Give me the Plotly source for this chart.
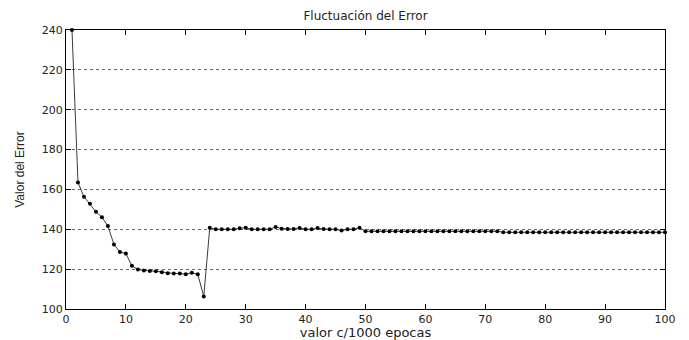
import plotly.graph_objects as go

epochs = list(range(1, 101))
error_values = [
    240, 163.5, 156.3, 152.8, 148.8, 146.0, 141.6, 132.4, 128.6, 127.8,
    121.7, 119.8, 119.3, 119.1, 119.0, 118.5, 118.0, 117.8, 117.8, 117.5,
    118.2, 117.4, 106.3, 140.8, 140.0, 140.0, 140.0, 140.0, 140.5, 140.8,
    140.0, 140.0, 140.0, 140.0, 141.2, 140.3, 140.2, 140.2, 140.7, 140.0,
    140.0, 140.6, 140.1, 140.0, 140.0, 139.4, 140.0, 140.0, 140.8, 139.0,
    139.0, 139.0, 139.0, 139.0, 139.0, 139.0, 139.0, 139.0, 139.0, 139.0,
    139.0, 139.0, 139.0, 139.0, 139.0, 139.0, 139.0, 139.0, 139.0, 139.0,
    139.0, 139.0, 138.5, 138.5, 138.5, 138.5, 138.5, 138.5, 138.5, 138.5,
    138.5, 138.5, 138.5, 138.5, 138.5, 138.5, 138.5, 138.5, 138.5, 138.5,
    138.5, 138.5, 138.5, 138.5, 138.5, 138.5, 138.5, 138.5, 138.5, 138.5,
]
x_ticks = list(range(0, 101, 10))
y_ticks = list(range(100, 241, 20))

FONT = "DejaVu Sans, Verdana, sans-serif"

fig = go.Figure()
fig.add_trace(go.Scatter(
    x=epochs, y=error_values, mode="lines+markers",
    line=dict(color="#3a3a3a", width=1),
    marker=dict(color="black", size=4, symbol="circle"),
    showlegend=False, cliponaxis=False,
))

fig.update_layout(
    width=689, height=340,
    margin=dict(l=66, r=24, t=30, b=31),
    paper_bgcolor="white", plot_bgcolor="white",
    font=dict(family=FONT, color="#222", size=11),
    title=dict(text="Fluctuación del Error", x=0.5, xanchor="center",
               xref="paper", y=1, yref="container", yanchor="top", pad=dict(t=12),
               font=dict(size=12, color="#222", family=FONT)),
    xaxis=dict(
        range=[0, 100], tickvals=x_ticks, ticks="inside", ticklen=5,
        tickcolor="black", showline=True, linecolor="black", linewidth=1,
        mirror="ticks", showgrid=False, zeroline=False, automargin=False,
        ticklabelstandoff=0,
        tickfont=dict(size=11, color="#222", family=FONT),
        title=dict(text="valor c/1000 epocas", font=dict(size=13, color="#222", family=FONT), standoff=0),
    ),
    yaxis=dict(
        range=[100, 240], tickvals=y_ticks, ticks="inside", ticklen=5,
        tickcolor="black", showline=True, linecolor="black", linewidth=1,
        mirror="ticks", showgrid=True, gridcolor="#666", griddash="3px,3px",
        gridwidth=1, zeroline=False, automargin=False,
        tickfont=dict(size=11, color="#222", family=FONT),
        title=dict(text="Valor del Error",
                   font=dict(size=12, color="#222", family="Liberation Sans Narrow, Liberation Sans, sans-serif"),
                   standoff=14),
    ),
)

fig.write_html("out.html")
